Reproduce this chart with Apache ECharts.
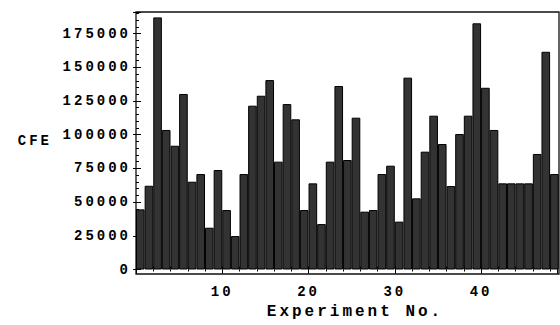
<!DOCTYPE html>
<html>
<head>
<meta charset="utf-8">
<script src="https://cdn.jsdelivr.net/npm/echarts@6/dist/echarts.min.js"></script>
<style>
  html, body { margin: 0; padding: 0; background: #fff; }
  #chart { width: 560px; height: 325px; }
  /* the reference font is a wide, spaced monospace */
  #chart text { letter-spacing: 3px; }
</style>
</head>
<body>
<div id="chart"></div>
<script>
  // experiment numbers (bar i covers [i-1, i] on the x axis)
  const experiments = [1, 2, 3, 4, 5, 6, 7, 8, 9, 10, 11, 12, 13, 14, 15, 16, 17, 18, 19, 20,
    21, 22, 23, 24, 25, 26, 27, 28, 29, 30, 31, 32, 33, 34, 35, 36, 37, 38, 39, 40,
    41, 42, 43, 44, 45, 46, 47, 48, 49];
  const cfe = [44600, 62100, 187000, 103500, 91800, 130200, 65100, 70800, 31000, 73800,
    44100, 24800, 70800, 121500, 128900, 140500, 80000, 122700, 111400, 44100,
    63900, 33700, 80000, 136100, 81200, 112600, 42900, 44100, 70800, 77000,
    35500, 142300, 52800, 87400, 114100, 93100, 61900, 100500, 114100, 182600,
    134800, 103500, 63900, 63900, 63900, 63900, 85700, 161500, 70800];

  const X_MAX = 48.8;
  const Y_MAX = 191000;
  const FONT = 'Liberation Mono';

  const chart = echarts.init(document.getElementById('chart'), null, { renderer: 'svg' });

  const tickOnly = (extra) => Object.assign({
    gridIndex: 0,
    type: 'value',
    min: 0,
    axisLine: { show: false },
    axisLabel: { show: false },
    splitLine: { show: false },
    axisTick: { inside: true, lineStyle: { color: '#000', width: 1 } },
  }, extra);

  const option = {
    animation: false,
    backgroundColor: '#fff',
    grid: [
      // plot area (zero line)
      { left: 136, right: 1, top: 12, bottom: 55.5 },
      // frame box, a bit lower than the zero line
      { left: 136, right: 1, top: 12, bottom: 51, show: true, borderColor: '#111', borderWidth: 1.3, backgroundColor: 'transparent' },
    ],
    xAxis: [
      tickOnly({
        position: 'bottom',
        offset: 4.5,
        max: X_MAX,
        interval: 2,
        axisTick: { inside: true, length: 3, lineStyle: { color: '#000' } },
        axisLabel: {
          show: true,
          margin: 11,
          color: '#000',
          fontFamily: FONT,
          fontWeight: 'bold',
          fontSize: 14,
          formatter: (v) => (v > 0 && v % 10 === 0 ? String(v) : ''),
        },
        name: 'Experiment No.',
        nameLocation: 'middle',
        nameGap: 25,
        nameTextStyle: { color: '#000', fontFamily: FONT, fontWeight: 'bold', fontSize: 16, padding: [0, 0, 0, 17] },
      }),
      tickOnly({ position: 'top', max: X_MAX, interval: 2, axisTick: { inside: true, length: 2, lineStyle: { color: '#000' } } }),
      tickOnly({ position: 'top', max: X_MAX, interval: 10, axisTick: { inside: true, length: 4, lineStyle: { color: '#000' } } }),
      { gridIndex: 1, show: false, type: 'value' },
    ],
    yAxis: [
      tickOnly({
        position: 'left',
        max: Y_MAX,
        interval: 5000,
        axisTick: { inside: true, length: 3, lineStyle: { color: '#000' } },
        axisLabel: {
          show: true,
          margin: 5,
          color: '#000',
          fontFamily: FONT,
          fontWeight: 'bold',
          fontSize: 14,
          formatter: (v) => (v % 25000 === 0 ? String(v) : ''),
        },
        name: 'CFE',
        nameLocation: 'middle',
        nameRotate: 0,
        nameGap: 84,
        nameTextStyle: { color: '#000', fontFamily: FONT, fontWeight: 'bold', fontSize: 14, padding: [4, 0, 0, 0] },
      }),
      tickOnly({ position: 'left', max: Y_MAX, interval: 25000, axisTick: { inside: true, length: 5, lineStyle: { color: '#000' } } }),
      tickOnly({ position: 'right', max: Y_MAX, interval: 25000, axisTick: { inside: true, length: 3, lineStyle: { color: '#000' } } }),
      { gridIndex: 1, show: false, type: 'value' },
    ],
    series: [
      {
        type: 'bar',
        xAxisIndex: 0,
        yAxisIndex: 0,
        data: experiments.map((n, i) => [n - 0.5, cfe[i]]),
        barWidth: '100%',
        barGap: 0,
        clip: true,
        itemStyle: { color: '#333', borderColor: '#000', borderWidth: 1 },
      },
    ],
  };

  chart.setOption(option);

  window.addEventListener('resize', () => chart.resize());
</script>
</body>
</html>
